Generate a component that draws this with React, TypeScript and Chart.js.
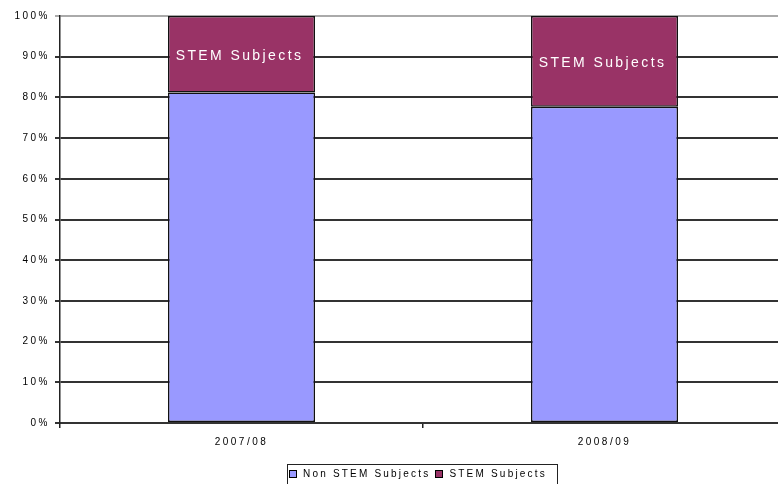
import React, { useEffect, useRef } from "react";
import { Chart, registerables } from "chart.js";

Chart.register(...registerables);

const categories = ["2007/08", "2008/09"];
const nonStemValues = [81.2, 77.7];
const stemValues = [18.8, 22.3];
const seriesNames = ["Non STEM Subjects", "STEM Subjects"];
const segmentLabel = "STEM Subjects";

const NON_STEM_COLOR = "#9999FF";
const STEM_COLOR = "#993366";
const FONT = "'Liberation Sans', Arial, sans-serif";

const spacingPlugin = {
  id: "tickSpacing",
  beforeDraw(chart: any) {
    (chart.ctx as any).letterSpacing = "2.5px";
  },
  beforeDatasetsDraw(chart: any) {
    (chart.ctx as any).letterSpacing = "0px";
  },
};

const stemLabelPlugin = {
  id: "stemLabel",
  afterDatasetsDraw(chart: any) {
    const meta = chart.getDatasetMeta(1);
    const ctx = chart.ctx;
    ctx.save();
    ctx.fillStyle = "#ffffff";
    ctx.font = `14px ${FONT}`;
    (ctx as any).letterSpacing = "2.4px";
    ctx.textAlign = "center";
    ctx.textBaseline = "middle";
    meta.data.forEach((el: any) => {
      const { x, y, base } = el.getProps(["x", "y", "base"], true);
      ctx.fillText(segmentLabel, x - 2, (y + base) / 2 + 2);
    });
    ctx.restore();
  },
};

export default function App() {
  const canvasRef = useRef<HTMLCanvasElement | null>(null);

  useEffect(() => {
    if (!canvasRef.current) return;
    const chart = new Chart(canvasRef.current, {
      type: "bar",
      data: {
        labels: categories,
        datasets: [
          {
            label: seriesNames[0],
            data: nonStemValues,
            backgroundColor: NON_STEM_COLOR,
            borderColor: "#111",
            borderWidth: 1.5,
            borderSkipped: false,
          },
          {
            label: seriesNames[1],
            data: stemValues,
            backgroundColor: STEM_COLOR,
            borderColor: "#111",
            borderWidth: 1.5,
            borderSkipped: false,
          },
        ],
      },
      options: {
        animation: false,
        responsive: false,
        maintainAspectRatio: false,
        layout: { padding: { top: 16, right: 14, left: 0, bottom: 0 } },
        datasets: { bar: { categoryPercentage: 1, barPercentage: 0.405 } },
        plugins: {
          legend: { display: false },
          tooltip: { enabled: false },
        },
        scales: {
          x: {
            stacked: true,
            offset: true,
            grid: {
              offset: true,
              drawOnChartArea: false,
              drawTicks: true,
              tickLength: 5,
              color: "#222",
              lineWidth: 1.5,
            },
            border: { display: true, color: "#333", width: 2 },
            ticks: {
              color: "#000",
              font: { family: FONT, size: 10 },
              padding: 8,
            },
            afterFit(scale: any) {
              scale.height = 61;
            },
          },
          y: {
            stacked: true,
            min: 0,
            max: 100,
            grid: {
              color: (c: any) => (c.tick && c.tick.value === 100 ? "#aaa" : "#333"),
              lineWidth: 2,
              tickLength: 5,
              drawTicks: true,
            },
            border: { display: true, color: "#222", width: 1.5 },
            ticks: {
              stepSize: 10,
              color: "#000",
              font: { family: FONT, size: 10 },
              padding: 5,
              callback: (v: any) => `${v}%`,
            },
            afterFit(scale: any) {
              scale.width = 60;
            },
          },
        },
      },
      plugins: [spacingPlugin, stemLabelPlugin],
    });
    return () => chart.destroy();
  }, []);

  return (
    <div
      style={{
        position: "fixed",
        left: 0,
        top: 0,
        width: 778,
        height: 484,
        overflow: "hidden",
        background: "#fff",
      }}
    >
      <canvas ref={canvasRef} width={800} height={484} style={{ display: "block" }} />
      <div
        style={{
          position: "absolute",
          left: 287,
          top: 464,
          width: 271,
          height: 30,
          border: "1.5px solid #222",
          fontFamily: FONT,
          fontSize: 10,
          letterSpacing: "2.2px",
          color: "#000",
          display: "flex",
          alignItems: "flex-start",
          paddingTop: 3,
          boxSizing: "border-box",
          whiteSpace: "nowrap",
        }}
      >
        {seriesNames.map((name, i) => (
          <div key={name} style={{ display: "flex", alignItems: "center", marginLeft: i === 0 ? 1 : 5 }}>
            <span
              style={{
                display: "inline-block",
                width: 6,
                height: 6,
                border: "1px solid #000",
                background: i === 0 ? NON_STEM_COLOR : STEM_COLOR,
                marginRight: 6,
              }}
            />
            <span>{name}</span>
          </div>
        ))}
      </div>
    </div>
  );
}
